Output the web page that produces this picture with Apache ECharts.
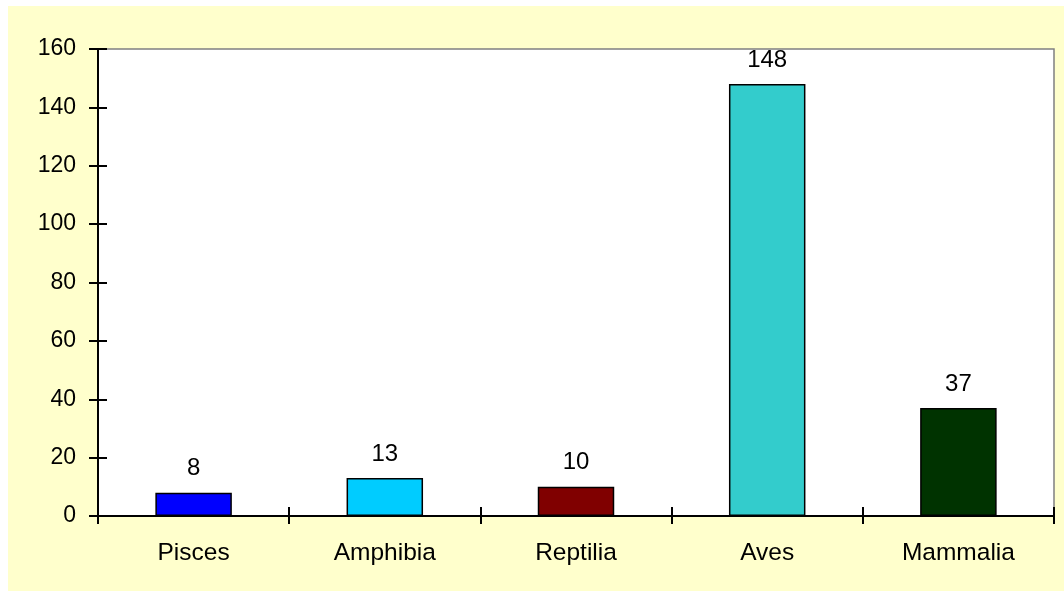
<!DOCTYPE html>
<html>
<head>
<meta charset="utf-8">
<script src="https://cdn.jsdelivr.net/npm/echarts@6/dist/echarts.min.js"></script>
<style>
html,body{margin:0;padding:0;background:#ffffff;width:1064px;height:591px;overflow:hidden;}
#chart{position:absolute;left:8px;top:6px;width:1056px;height:585px;}
</style>
</head>
<body>
<div id="chart"></div>
<script>
var categories = ['Pisces', 'Amphibia', 'Reptilia', 'Aves', 'Mammalia'];
var values = [8, 13, 10, 148, 37];
var barColors = ['#0000FF', '#00CCFF', '#800000', '#33CCCC', '#003300'];
var yTicks = {min: 0, max: 160, interval: 20};

var chart = echarts.init(document.getElementById('chart'));
var font = 'Liberation Sans, Arial, sans-serif';
chart.setOption({
  backgroundColor: '#FFFFCC',
  animation: false,
  grid: {
    left: 90, top: 43, right: 10, bottom: 75,
    show: true, backgroundColor: '#ffffff', borderColor: '#808080', borderWidth: 1.5
  },
  xAxis: [{
    type: 'category', data: categories, boundaryGap: true,
    axisLine: {lineStyle: {color: '#000', width: 2}},
    axisTick: {show: true, length: 8, lineStyle: {color: '#000', width: 2}},
    axisLabel: {color: '#000', fontSize: 24.5, fontFamily: font, margin: 25}
  }, {
    type: 'category', data: categories, boundaryGap: true, position: 'bottom',
    axisLine: {show: false},
    axisTick: {show: true, inside: true, length: 9, lineStyle: {color: '#000', width: 2}},
    axisLabel: {show: false}
  }],
  yAxis: [{
    type: 'value', min: yTicks.min, max: yTicks.max, interval: yTicks.interval,
    axisLine: {show: true, lineStyle: {color: '#000', width: 2}},
    axisTick: {show: true, length: 9, lineStyle: {color: '#000', width: 2}},
    splitLine: {show: false},
    axisLabel: {color: '#000', fontSize: 23, fontFamily: font, margin: 22}
  }, {
    type: 'value', min: yTicks.min, max: yTicks.max, interval: yTicks.interval, position: 'left',
    axisLine: {show: false},
    axisTick: {show: true, inside: true, length: 9, lineStyle: {color: '#000', width: 2}},
    splitLine: {show: false},
    axisLabel: {show: false}
  }],
  series: [{
    type: 'bar',
    barWidth: '40%',
    data: values.map(function (v, i) {
      return {value: v, itemStyle: {color: barColors[i], borderColor: '#000', borderWidth: 1.5}};
    }),
    label: {show: true, position: 'top', distance: 12, color: '#000', fontSize: 24, fontFamily: font}
  }]
});
</script>
</body>
</html>
